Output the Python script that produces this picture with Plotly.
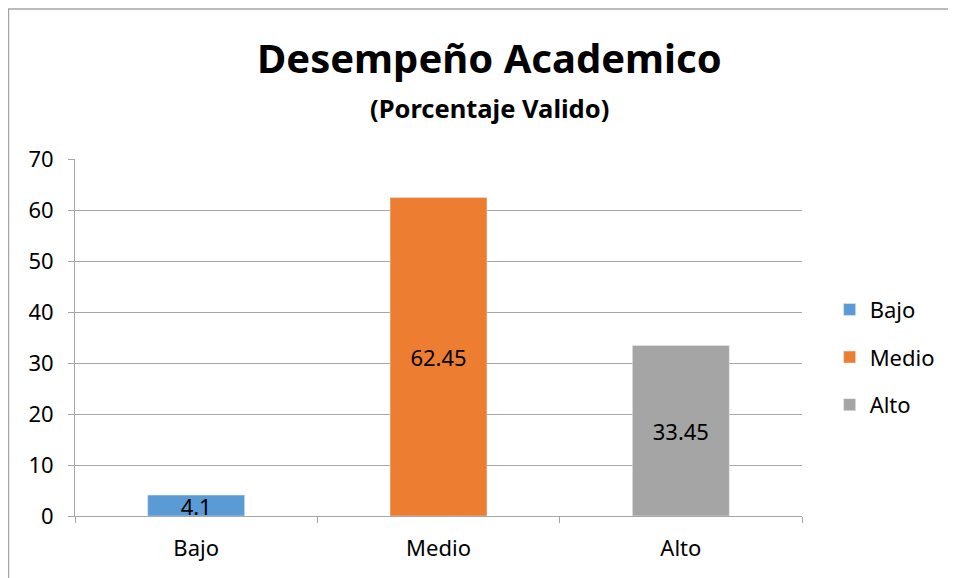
import plotly.graph_objects as go

categories = ["Bajo", "Medio", "Alto"]
values = [4.1, 62.45, 33.45]
labels = ["4.1", "62.45", "33.45"]
colors = ["#5B9BD5", "#ED7D31", "#A5A5A5"]

FONT = "Noto Sans"

fig = go.Figure()

for cat, val, lab, col in zip(categories, values, labels, colors):
    fig.add_trace(
        go.Bar(
            x=[cat],
            y=[val],
            name=cat,
            marker_color=col,
            width=0.4,
            text=[lab],
            textposition="inside",
            insidetextanchor="middle",
            constraintext="none",
            textfont=dict(color="black", size=22, family=FONT),
            legendgroup=cat,
        )
    )

fig.update_layout(
    width=948,
    height=570,
    margin=dict(l=67, r=154, t=151, b=62),
    paper_bgcolor="white",
    plot_bgcolor="white",
    barmode="overlay",
    font=dict(family=FONT, size=22, color="black"),
    showlegend=True,
    legend=dict(
        x=1.038,
        y=0.445,
        yanchor="middle",
        xanchor="left",
        font=dict(size=22),
        tracegroupgap=16,
        itemwidth=30,
    ),
    annotations=[
        dict(
            text="<b>Desempeño Academico</b>",
            x=0.5695, y=1.283, xref="paper", yref="paper",
            xanchor="center", yanchor="middle",
            showarrow=False, font=dict(size=40, family=FONT),
        ),
        dict(
            text="<b>(Porcentaje Valido)</b>",
            x=0.5695, y=1.143, xref="paper", yref="paper",
            xanchor="center", yanchor="middle",
            showarrow=False, font=dict(size=25.5, family=FONT),
        ),
    ],
    shapes=[
        dict(
            type="rect", xref="paper", yref="paper",
            x0=-0.0915, x1=1.6, y0=-0.6, y1=1.42,
            line=dict(color="#A6A6A6", width=1.5),
            fillcolor="rgba(0,0,0,0)", layer="below",
        )
    ],
)

fig.update_xaxes(
    showgrid=False,
    showline=True,
    linecolor="#A6A6A6",
    linewidth=1,
    ticks="outside",
    ticklen=6,
    tickcolor="#A6A6A6",
    tickson="boundaries",
    tickfont=dict(size=22),
    ticklabelstandoff=13,
)
fig.update_yaxes(
    range=[0, 70],
    dtick=10,
    showgrid=True,
    gridcolor="#A6A6A6",
    gridwidth=1,
    showline=True,
    linecolor="#A6A6A6",
    ticks="outside",
    ticklen=6,
    tickcolor="#A6A6A6",
    tickfont=dict(size=22),
    ticklabelstandoff=10,
    zeroline=False,
)

fig.write_html("out.html")
